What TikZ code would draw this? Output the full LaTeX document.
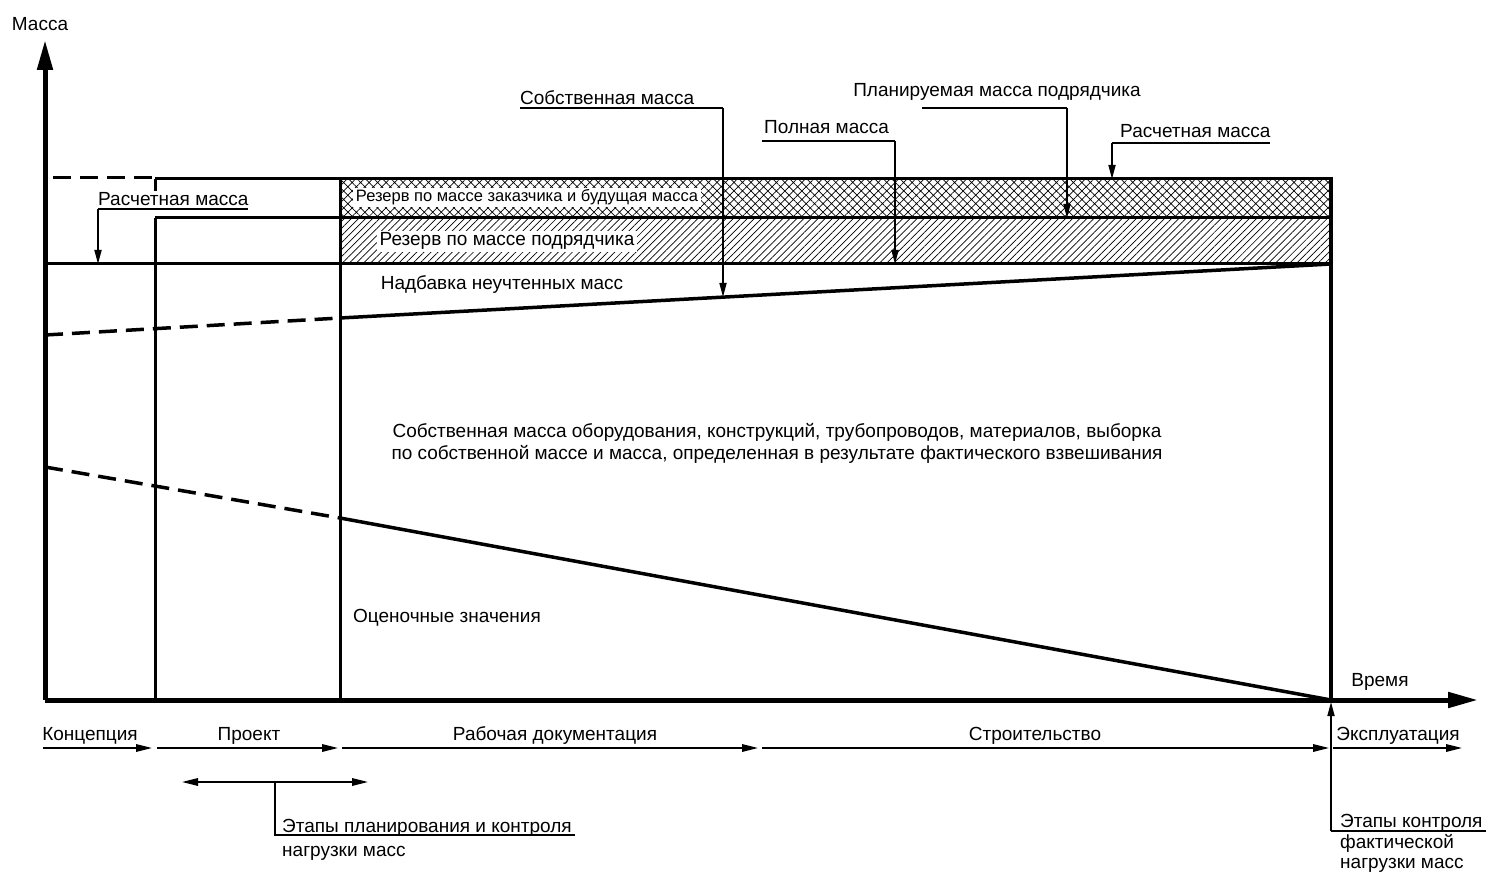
\documentclass[tikz,border=0pt]{standalone}
\usepackage{fontspec}
\setmainfont{Liberation Sans}
\usetikzlibrary{arrows.meta,patterns.meta}
\begin{document}
\begin{tikzpicture}[x=1pt,y=-1pt,
  lbl/.style={font=\fontsize{19}{22}\selectfont, inner sep=0pt, anchor=base},
  lblw/.style={lbl, anchor=base west},
  small/.style={font=\fontsize{16.5}{19}\selectfont, inner sep=0pt, anchor=base},
  axis/.style={line width=5pt, -{Triangle[length=30pt,width=15pt]}},
  main/.style={line width=3pt},
  slope/.style={line width=3.5pt},
  dashA/.style={dash pattern=on 18pt off 9pt},
  lead/.style={line width=1.7pt},
  leadarr/.style={line width=1.7pt, -{Triangle[length=14pt,width=7pt]}},
  phase/.style={line width=1.7pt, -{Triangle[length=16pt,width=7.5pt]}},
  bandtxt/.style={fill=white, inner xsep=3pt, inner ysep=2pt}]
\useasboundingbox (0,0) rectangle (1488,874);

% hatched bands
\fill[pattern={Hatch[angle=45,distance=6pt,line width=0.7pt]}] (340,179) rectangle (1331,218);
\fill[pattern={Lines[angle=45,distance=5pt,line width=0.7pt]}] (340,218) rectangle (1331,264);

% key coordinates
\coordinate (O) at (45,700);
\coordinate (Ytip) at (45,40);
\coordinate (Xtip) at (1478,700);

% frame lines
\draw[main,dashA] (53,178) -- (155,178);
\draw[main] (155,179) -- (1331,179);
\draw[main] (155,218) -- (1331,218);
\draw[main] (45,264) -- (1331,264);
\draw[main] (155,700) -- (155,218);
\draw[main] (155,179) -- (155,191);
\draw[main] (340,700) -- (340,179);
\draw[line width=4pt] (1331,700) -- (1331,177.5);

% slopes
\coordinate (s1a) at (45,335);
\coordinate (s1b) at (340,318);
\coordinate (s1c) at (1331,264);
\draw[slope,dashA] (s1a) -- (s1b);
\draw[slope] (s1b) -- (s1c);
\coordinate (s2a) at (45,467);
\coordinate (s2b) at (340,518);
\coordinate (s2c) at (1331,700);
\draw[slope,dashA] (s2a) -- (s2b);
\draw[slope] (s2b) -- (s2c);

% axes
\draw[axis] (O) -- (Ytip);
\draw[axis] (O) -- (Xtip);
\node[lbl] (masse) at (40,31) {Масса};
\node[lbl] (time) at (1380,686) {Время};

% band texts
\node[small,bandtxt] (rz1) at (527,202) {Резерв по массе заказчика и будущая масса};
\node[lbl,bandtxt] (rz2) at (507,246) {Резерв по массе подрядчика};
\node[lbl] (nadb) at (502,290) {Надбавка неучтенных масс};
\node[lbl] (own1) at (777,437) {Собственная масса оборудования, конструкций, трубопроводов, материалов, выборка};
\node[lbl] (own2) at (777,459) {по собственной массе и масса, определенная в результате фактического взвешивания};
\node[lbl] (ocen) at (447,622) {Оценочные значения};

% left Расчетная масса
\node[lblw] (rasch1) at (98,206) {Расчетная масса};
\coordinate (r1u) at (248,209);
\coordinate (r1a) at (98,209);
\coordinate (r1t) at (98,264);
\draw[lead] (r1u) -- (r1a);
\draw[leadarr] (r1a) -- (r1t);

% Собственная масса
\node[lblw] (sob) at (520,105) {Собственная масса};
\coordinate (sobL) at (520,108);
\coordinate (sobR) at (723,108);
\coordinate (sobT) at (723,297);
\draw[lead] (sobL) -- (sobR);
\draw[leadarr] (sobR) -- (sobT);

% Полная масса
\node[lblw] (poln) at (764,134) {Полная масса};
\coordinate (polL) at (762,141);
\coordinate (polR) at (895,141);
\coordinate (polT) at (895,264);
\draw[lead] (polL) -- (polR);
\draw[leadarr] (polR) -- (polT);

% Планируемая масса подрядчика
\node[lbl] (plan) at (997,97) {Планируемая масса подрядчика};
\coordinate (plL) at (922,108);
\coordinate (plR) at (1067,108);
\coordinate (plT) at (1067,218);
\draw[lead] (plL) -- (plR);
\draw[leadarr] (plR) -- (plT);

% right Расчетная масса
\node[lblw] (rasch2) at (1120,138) {Расчетная масса};
\coordinate (r2L) at (1112,143);
\coordinate (r2R) at (1270,143);
\coordinate (r2T) at (1112,179);
\draw[lead] (r2R) -- (r2L);
\draw[leadarr] (r2L) -- (r2T);

% phases
\node[lbl] (konc) at (90,740) {Концепция};
\node[lbl] (proj) at (249,740) {Проект};
\node[lbl] (rab) at (555,740) {Рабочая документация};
\node[lbl] (stroi) at (1035,740) {Строительство};
\node[lbl] (expl) at (1398,740) {Эксплуатация};
\coordinate (pa0) at (43,748);
\coordinate (pa1) at (152,748);
\coordinate (pb0) at (157,748);
\coordinate (pb1) at (338,748);
\coordinate (pc0) at (342,748);
\coordinate (pc1) at (758,748);
\coordinate (pd0) at (762,748);
\coordinate (pd1) at (1329,748);
\coordinate (pe0) at (1333,748);
\coordinate (pe1) at (1462,748);
\draw[phase] (pa0) -- (pa1);
\draw[phase] (pb0) -- (pb1);
\draw[phase] (pc0) -- (pc1);
\draw[phase] (pd0) -- (pd1);
\draw[phase] (pe0) -- (pe1);

% planning stages
\coordinate (dl) at (182,782);
\coordinate (dr) at (368,782);
\coordinate (dm) at (275,782);
\coordinate (dd) at (275,835);
\coordinate (de) at (575,835);
\draw[phase,{Triangle[length=16pt,width=7.5pt]}-{Triangle[length=16pt,width=7.5pt]}] (dl) -- (dr);
\draw[lead] (dm) -- (dd) -- (de);
\node[lblw] (etap1) at (282,832) {Этапы планирования и контроля};
\node[lblw] (etap1b) at (282,856) {нагрузки масс};

% control stages
\coordinate (cb) at (1331,831);
\coordinate (ct) at (1331,702);
\coordinate (ce) at (1486,831);
\draw[leadarr] (cb) -- (ct);
\draw[lead] (cb) -- (ce);
\node[lblw] (etap2) at (1340,827) {Этапы контроля};
\node[lblw] (etap2b) at (1340,848) {фактической};
\node[lblw] (etap2c) at (1340,868) {нагрузки масс};
\end{tikzpicture}
\end{document}
